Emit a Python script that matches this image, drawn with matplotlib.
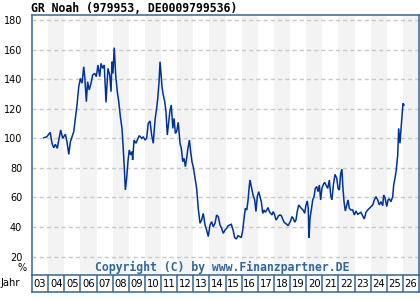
import matplotlib
matplotlib.use("Agg")
import matplotlib.pyplot as plt

plt.rcParams['lines.scale_dashes'] = False

# ---- data ----
years = [
 2003.74, 2003.91, 2004.13, 2004.24, 2004.35, 2004.45, 2004.57, 2004.66, 2004.78, 2004.90,
 2005.07, 2005.17, 2005.28, 2005.38, 2005.48, 2005.59, 2005.69, 2005.79, 2005.90, 2006.00,
 2006.10, 2006.21, 2006.27, 2006.37, 2006.45, 2006.55, 2006.66, 2006.76, 2006.89, 2006.99,
 2007.09, 2007.20, 2007.28, 2007.38, 2007.48, 2007.59, 2007.71, 2007.82, 2007.90, 2007.96,
 2008.02, 2008.10, 2008.19, 2008.29, 2008.38, 2008.48, 2008.58, 2008.64, 2008.72, 2008.79,
 2008.87, 2008.95, 2009.03, 2009.12, 2009.20, 2009.24, 2009.33, 2009.45, 2009.53, 2009.65,
 2009.80, 2009.90, 2010.01, 2010.11, 2010.21, 2010.32, 2010.42, 2010.52, 2010.63, 2010.73,
 2010.80, 2010.88, 2010.94, 2011.00, 2011.06, 2011.14, 2011.23, 2011.31, 2011.39, 2011.48,
 2011.56, 2011.64, 2011.73, 2011.81, 2011.89, 2011.97, 2012.07, 2012.18, 2012.26, 2012.35,
 2012.43, 2012.51, 2012.59, 2012.67, 2012.76, 2012.84, 2012.92, 2013.00, 2013.11, 2013.21,
 2013.31, 2013.42, 2013.52, 2013.62, 2013.73, 2013.83, 2013.93, 2014.04, 2014.14, 2014.24,
 2014.35, 2014.45, 2014.55, 2014.66, 2014.76, 2014.86, 2014.97, 2015.07, 2015.17, 2015.26,
 2015.36, 2015.47, 2015.57, 2015.67, 2015.78, 2015.88, 2015.98, 2016.07, 2016.15, 2016.23,
 2016.32, 2016.40, 2016.46, 2016.52, 2016.60, 2016.71, 2016.81, 2016.89, 2016.97, 2017.06,
 2017.14, 2017.22, 2017.31, 2017.39, 2017.47, 2017.56, 2017.64, 2017.72, 2017.80, 2017.88,
 2017.96, 2018.05, 2018.13, 2018.21, 2018.30, 2018.38, 2018.46, 2018.55, 2018.63, 2018.71,
 2018.80, 2018.88, 2018.96, 2019.04, 2019.12, 2019.20, 2019.29, 2019.37, 2019.45, 2019.54,
 2019.62, 2019.70, 2019.81, 2019.91, 2019.99, 2020.07, 2020.13, 2020.18, 2020.24, 2020.32,
 2020.41, 2020.49, 2020.57, 2020.66, 2020.74, 2020.82, 2020.90, 2020.98, 2021.07, 2021.15,
 2021.23, 2021.34, 2021.44, 2021.52, 2021.60, 2021.69, 2021.79, 2021.90, 2021.98, 2022.06,
 2022.14, 2022.22, 2022.27, 2022.35, 2022.43, 2022.52, 2022.60, 2022.68, 2022.78, 2022.89,
 2022.99, 2023.09, 2023.20, 2023.30, 2023.40, 2023.51, 2023.61, 2023.71, 2023.82, 2023.92,
 2024.02, 2024.13, 2024.23, 2024.33, 2024.44, 2024.54, 2024.64, 2024.75, 2024.81, 2024.89,
 2025.00, 2025.08, 2025.16, 2025.26, 2025.37, 2025.43, 2025.51, 2025.59, 2025.68, 2025.74,
 2025.82, 2025.88, 2025.95, 2026.01, 2026.07]
values = [
 100.4, 100.9, 104.0, 96.6, 93.6, 95.9, 93.2, 98.8, 105.6, 100.0,
 102.7, 97.7, 89.1, 97.7, 101.0, 104.5, 113.5, 122.5, 134.9, 140.5,
 137.2, 148.4, 141.7, 124.8, 138.3, 132.7, 137.2, 142.8, 143.9, 141.7,
 149.6, 141.7, 150.7, 147.3, 149.6, 124.3, 147.3, 142.8, 131.5, 151.8,
 143.9, 161.3, 142.8, 131.5, 124.8, 114.6, 106.7, 96.6, 80.8, 65.0,
 72.9, 84.2, 92.1, 88.7, 91.0, 85.3, 98.8, 96.6, 98.8, 101.8,
 100.0, 101.0, 98.8, 100.0, 110.1, 111.7, 102.2, 96.6, 112.4, 120.3,
 127.0, 138.3, 151.8, 143.9, 134.9, 129.3, 124.8, 118.0, 102.2, 111.2,
 119.1, 122.5, 106.7, 113.5, 103.3, 104.5, 110.8, 96.6, 93.2, 84.2,
 86.4, 80.8, 86.4, 93.2, 98.8, 91.0, 84.2, 80.8, 72.9, 66.1,
 52.6, 42.5, 44.7, 49.2, 41.3, 37.9, 33.5, 41.3, 43.6, 40.2,
 42.5, 48.1, 47.0, 41.3, 39.1, 35.7, 37.9, 39.1, 40.9, 41.3,
 41.8, 37.9, 32.8, 31.9, 34.1, 33.5, 32.8, 37.9, 45.9, 52.6,
 51.5, 58.3, 66.1, 71.8, 67.3, 61.6, 58.3, 50.4, 60.5, 63.9,
 60.5, 57.1, 49.2, 51.5, 49.9, 51.5, 53.1, 50.4, 49.2, 48.1,
 50.4, 48.1, 44.7, 45.9, 47.7, 48.1, 47.7, 45.4, 43.2, 42.5,
 41.8, 40.9, 42.5, 44.1, 47.0, 45.9, 43.2, 44.7, 50.4, 54.9,
 53.8, 52.6, 51.5, 49.2, 54.9, 57.6, 52.6, 32.8, 45.9, 51.5,
 58.3, 60.5, 66.1, 67.3, 63.9, 68.4, 58.3, 66.1, 68.8, 70.2,
 68.4, 66.1, 71.8, 61.6, 58.3, 68.4, 75.6, 72.9, 66.1, 65.0,
 75.8, 79.2, 68.4, 57.1, 50.8, 54.9, 58.3, 52.6, 51.5, 51.5,
 48.1, 50.8, 48.6, 49.2, 49.9, 47.4, 45.4, 49.9, 51.5, 52.6,
 53.8, 54.9, 58.3, 60.5, 58.3, 54.9, 57.1, 54.4, 61.6, 59.8,
 53.8, 58.3, 59.0, 57.1, 60.5, 68.4, 72.9, 78.5, 88.7, 106.7,
 96.6, 105.6, 115.7, 123.6, 122.5]

year_labels = ['03', '04', '05', '06', '07', '08', '09', '10', '11', '12', '13', '14',
               '15', '16', '17', '18', '19', '20', '21', '22', '23', '24', '25', '26']
y_ticks = [20, 40, 60, 80, 100, 120, 140, 160, 180]

title = "GR Noah (979953, DE0009799536)"
copyright_text = "Copyright (C) by www.Finanzpartner.DE"

FRAME = '#336699'
LINE = '#003399'
BAND = '#f3f3f3'
GRID = '#c8c8c8'

W, H = 420, 300
fig = plt.figure(figsize=(W / 100, H / 100), dpi=100)
fig.patch.set_facecolor('white')

x0, x1 = 2003, 2027
left, right, top, bottom = 32, 419, 15, 275
ax = fig.add_axes([left / W, 1 - bottom / H, (right - left) / W, (bottom - top) / H])
ax.set_xlim(x0, x1)
ax.set_ylim(7.5, 183.4)

for i, lab in enumerate(year_labels):
    if i % 2 == 1:
        ax.axvspan(x0 + i, x0 + i + 1, color=BAND, lw=0, zorder=0)

for t in y_ticks:
    ax.axhline(t, color=GRID, lw=1.0, linestyle=(0, (3.0, 2.2)), zorder=1)

ax.plot(years, values, color=LINE, lw=1.1, zorder=3, solid_joinstyle='miter')

ax.set_xticks([])
ax.set_yticks(y_ticks)
ax.set_yticklabels([str(t) for t in y_ticks], fontsize=7, family='DejaVu Sans')
ax.tick_params(axis='y', length=0, pad=7)
for s in ['left', 'top', 'right']:
    ax.spines[s].set_color(FRAME)
    ax.spines[s].set_linewidth(1.1)
ax.spines['bottom'].set_visible(False)

# year label row
row_top, row_bot = 275, 292
axr = fig.add_axes([left / W, 1 - row_bot / H, (right - left) / W, (row_bot - row_top) / H])
axr.set_xlim(x0, x1)
axr.set_ylim(0, 1)
axr.set_xticks([])
axr.set_yticks([])
for s in axr.spines.values():
    s.set_color(FRAME)
    s.set_linewidth(1.1)
for i, lab in enumerate(year_labels):
    if i > 0:
        axr.axvline(x0 + i, color=FRAME, lw=1.1)
    axr.text(x0 + i + 0.5, 0.47, lab, ha='center', va='center', fontsize=7.2,
             family='DejaVu Sans')

# figure texts (pixel coords, y measured from top)
def ptxt(x, y, s, **kw):
    fig.text(x / W, 1 - y / H, s, **kw)

ptxt(31, 9, title, fontsize=8.3, family='DejaVu Sans Mono', fontweight='bold',
     ha='left', va='center', color='black')
ptxt(95, 267.5, copyright_text, fontsize=8.3, family='DejaVu Sans Mono',
     fontweight='bold', color=FRAME, va='center', ha='left', zorder=5)
ptxt(22, 268, '%', fontsize=7, family='DejaVu Sans', ha='center', va='center')
ptxt(1, 283.5, 'Jahr', fontsize=7.2, family='DejaVu Sans', ha='left', va='center')

fig.savefig('out.png', dpi=100, facecolor='white')
